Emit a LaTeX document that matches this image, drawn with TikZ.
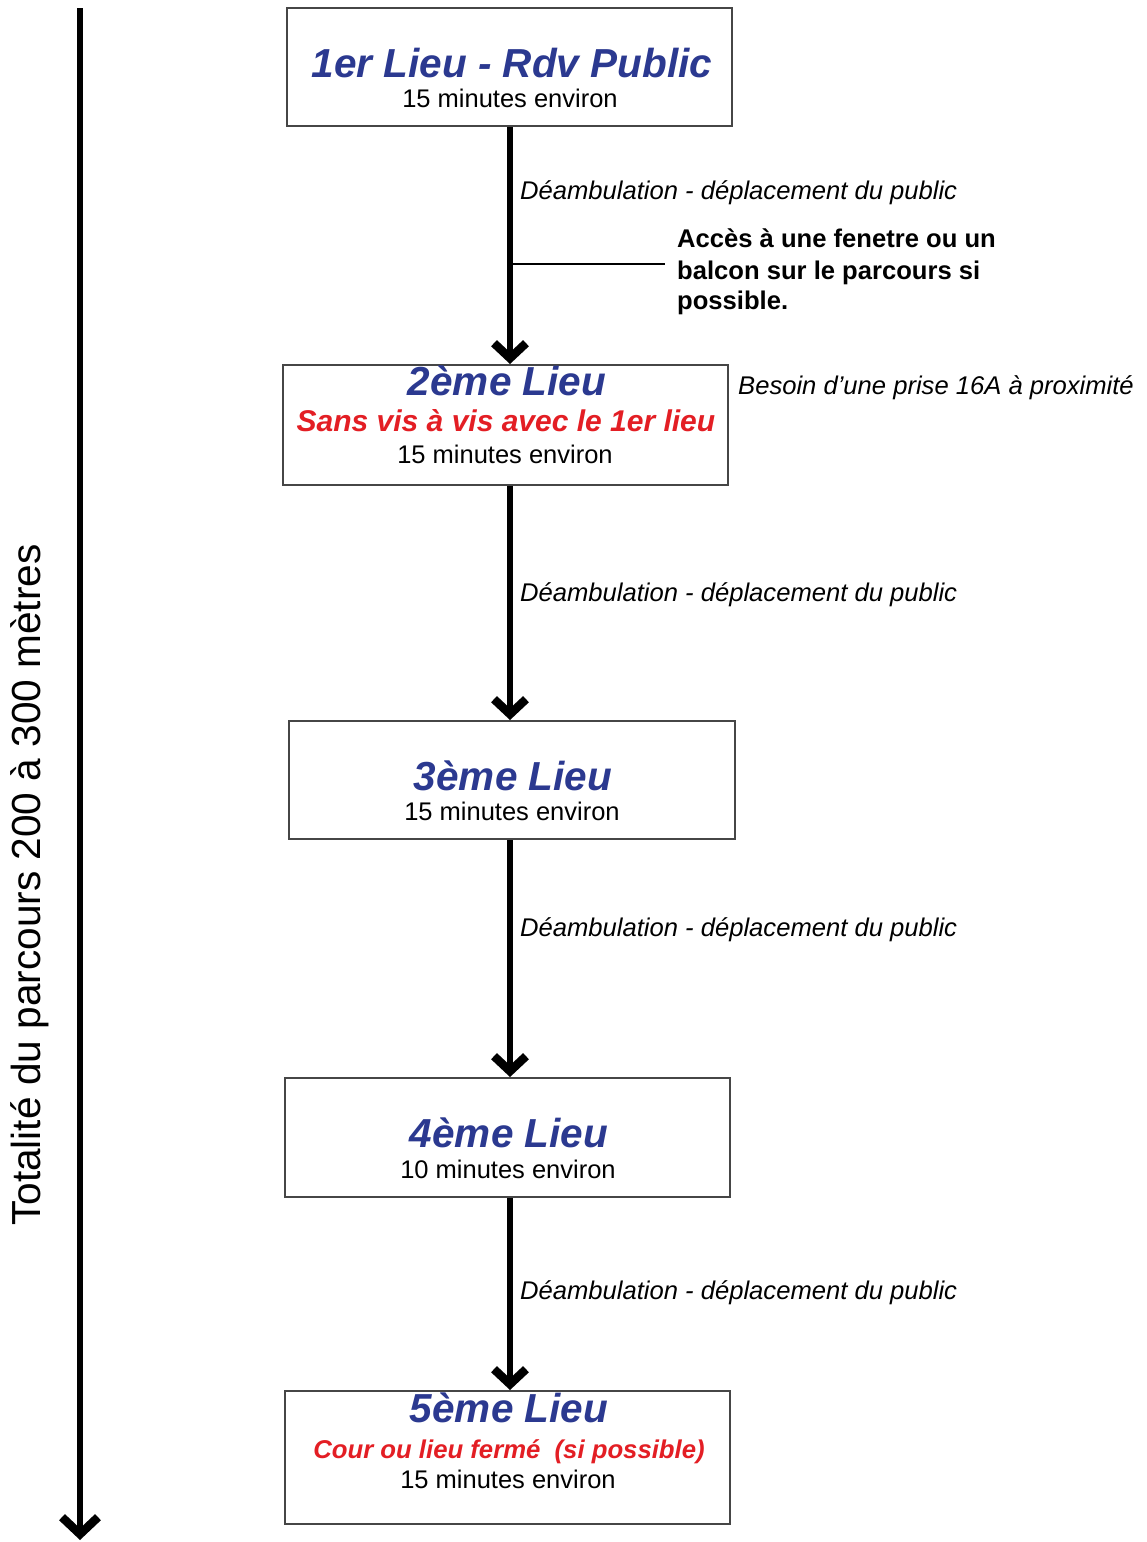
\documentclass[tikz,border=0pt]{standalone}
\usepackage{fontspec}
\setmainfont{Liberation Sans}
\usetikzlibrary{arrows.meta}
\definecolor{titleblue}{RGB}{43,57,144}
\definecolor{redtxt}{RGB}{227,30,36}
\definecolor{boxline}{RGB}{70,70,70}
\tikzset{
  lieubox/.style={draw=boxline, line width=2pt, fill=white, inner sep=0pt},
  ttl/.style={anchor=base, text=titleblue, font=\fontsize{40.5}{40.5}\selectfont\bfseries\itshape, inner sep=0pt},
  redline/.style={anchor=base, text=redtxt, font=\fontsize{30}{30}\selectfont\bfseries\itshape, inner sep=0pt},
  dur/.style={anchor=base, font=\fontsize{25.5}{25.5}\selectfont, inner sep=0pt},
  walk/.style={anchor=base west, font=\fontsize{25.6}{25.6}\selectfont\itshape, inner sep=0pt},
  note/.style={anchor=base west, font=\fontsize{25.6}{25.6}\selectfont\bfseries, inner sep=0pt},
  flow/.style={line width=6pt, -{Straight Barb[length=15pt,width=32pt,line width=8.5pt]}},
}
\begin{document}
\begin{tikzpicture}[x=1pt,y=-1pt]
\useasboundingbox (0,0) rectangle (1147,1542);
% boxes
\node[lieubox, minimum width=445pt, minimum height=118pt] (b1) at (509.5,67) {};
\node[lieubox, minimum width=445pt, minimum height=120pt] (b2) at (505.5,425) {};
\node[lieubox, minimum width=446pt, minimum height=118pt] (b3) at (512,780) {};
\node[lieubox, minimum width=445pt, minimum height=119pt] (b4) at (507.5,1137.5) {};
\node[lieubox, minimum width=445pt, minimum height=133pt] (b5) at (507.5,1457.5) {};
% box texts
\node[ttl] (t1) at (512,77) {1er Lieu - Rdv Public};
\node[dur] (d1) at (510,107) {15 minutes environ};
\node[ttl] (t2) at (507,395) {2ème Lieu};
\node[redline] (r2) at (506,431) {Sans vis à vis avec le 1er lieu};
\node[dur] (d2) at (505,463) {15 minutes environ};
\node[ttl] (t3) at (513,790) {3ème Lieu};
\node[dur] (d3) at (512,820) {15 minutes environ};
\node[ttl] (t4) at (509,1147) {4ème Lieu};
\node[dur] (d4) at (508,1178) {10 minutes environ};
\node[ttl] (t5) at (509,1422) {5ème Lieu};
\node[redline, font=\fontsize{25.7}{25.7}\selectfont\bfseries\itshape] (r5) at (509,1458) {Cour ou lieu fermé\ \ (si possible)};
\node[dur] (d5) at (508,1488) {15 minutes environ};
% flow arrows
\coordinate (ax) at (510,0);
\draw[flow] (b1.south -| ax) -- (b2.north -| ax);
\draw[flow] (b2.south -| ax) -- (b3.north -| ax);
\draw[flow] (b3.south -| ax) -- (b4.north -| ax);
\draw[flow] (b4.south -| ax) -- (b5.north -| ax);
% walking labels
\node[walk] (w1) at (520,199) {Déambulation - déplacement du public};
\node[walk] (w2) at (520,601) {Déambulation - déplacement du public};
\node[walk] (w3) at (520,936) {Déambulation - déplacement du public};
\node[walk] (w4) at (520,1299) {Déambulation - déplacement du public};
% notes
\node[walk] (besoin) at (738,394) {Besoin d’une prise 16A à proximité};
\node[note] (n1) at (677,247) {Accès à une fenetre ou un};
\node[note] (n2) at (677,279) {balcon sur le parcours si};
\node[note] (n3) at (677,309) {possible.};
\coordinate (hA) at (510,264);
\coordinate (hB) at (665,264);
\draw[line width=1.5pt] (hA) -- (hB);
% overall arrow
\coordinate (lt) at (80,8);
\coordinate (lb) at (80,1540);
\draw[flow, -{Straight Barb[length=17pt,width=36pt,line width=8.5pt]}] (lt) -- (lb);
\node[rotate=90, font=\fontsize{40.6}{40.6}\selectfont, inner sep=0pt] (total) at (30,885) {Totalité du parcours 200 à 300 mètres};
\end{tikzpicture}
\end{document}
